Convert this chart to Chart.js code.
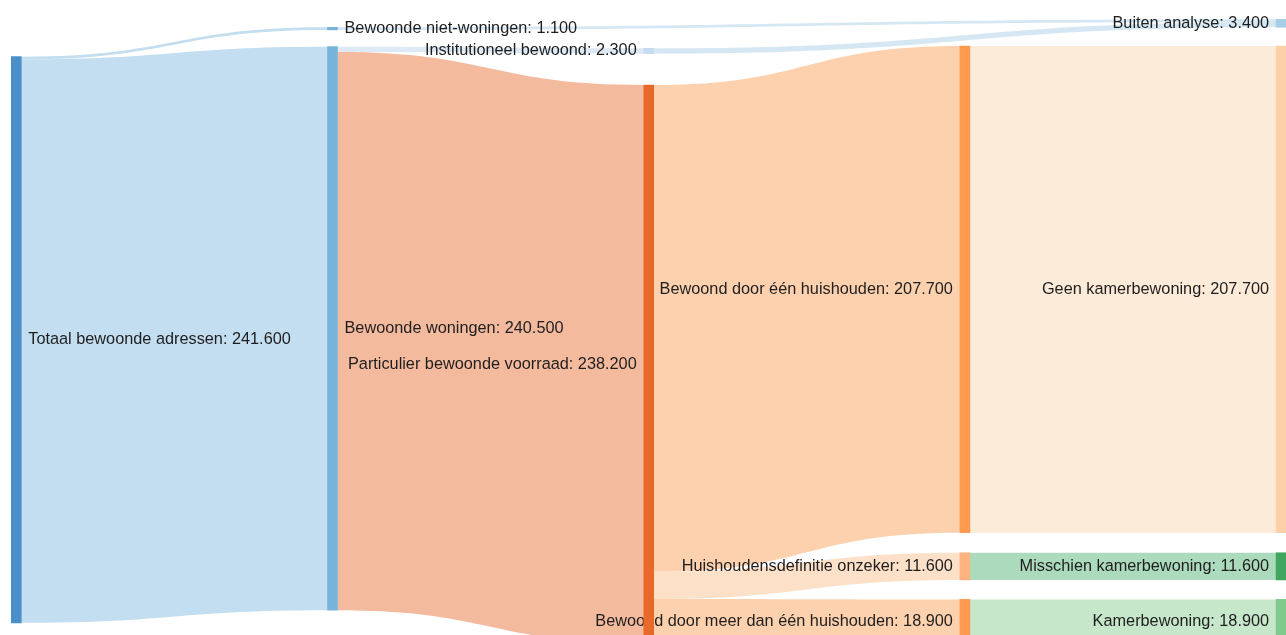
<!DOCTYPE html>
<html>
<head>
<meta charset="utf-8">
<script src="https://cdn.jsdelivr.net/npm/chart.js@4"></script>
<style>
  html, body { margin: 0; padding: 0; background: #fff; overflow: hidden; }
  #wrap { width: 1286px; height: 635px; }
</style>
</head>
<body>
<div id="wrap"><canvas id="myChart" width="1286" height="635"></canvas></div>
<script>
// nodes (values in thousands)
const nodeNames = [
  "Totaal bewoonde adressen",
  "Bewoonde niet-woningen",
  "Bewoonde woningen",
  "Institutioneel bewoond",
  "Particulier bewoonde voorraad",
  "Bewoond door één huishouden",
  "Huishoudensdefinitie onzeker",
  "Bewoond door meer dan één huishouden",
  "Buiten analyse",
  "Geen kamerbewoning",
  "Misschien kamerbewoning",
  "Kamerbewoning"
];
const nodeValues = [241.6, 1.1, 240.5, 2.3, 238.2, 207.7, 11.6, 18.9, 3.4, 207.7, 11.6, 18.9];
const nodeColumns = [0, 1, 1, 2, 2, 3, 3, 3, 4, 4, 4, 4];

// links
const linkSource = [0, 0, 1, 2, 2, 3, 4, 4, 4, 5, 6, 7];
const linkTarget = [1, 2, 8, 3, 4, 8, 5, 6, 7, 9, 10, 11];
const linkValues = [1.1, 240.5, 1.1, 2.3, 238.2, 2.3, 207.7, 11.6, 18.9, 207.7, 11.6, 18.9];

// layout: top of each node, in the same units as the values
const nodeTop = [24.2, 11.65, 19.93, 20.6, 36.3, 19.63, 235.9, 255.8, 8.24, 19.63, 235.9, 255.8];

// styles
const nodeColors = ["#4a8fc7", "#78b3d9", "#78b3d9", "#c6dbef", "#e8692a", "#fd9a50",
  "#fdb27f", "#fd9a50", "#a6cee6", "#fdd0a8", "#41a65f", "#7ecb8c"];
const linkColors = ["#c3def0", "#c3def0", "#d6e7f4", "#dde9f5", "#f4ba9e", "#d6e7f4",
  "#fdd1ae", "#fde0c8", "#fdd1ae", "#fdebd9", "#abdabc", "#c7e7ca"];
const nodeWidth = 10;
const labelPad = 7;

const fmt = (v) => Math.round(v * 1000).toLocaleString("nl-NL");

const sankeyPlugin = {
  id: "sankeyLinks",
  beforeDatasetsDraw(chart) {
    const ctx = chart.ctx;
    const xs = chart.scales.x;
    const ys = chart.scales.y;

    // offsets where links leave / enter each node
    const outOff = nodeValues.map(() => 0);
    const inOff = nodeValues.map(() => 0);
    const order = linkValues.map((v, i) => i);
    const outOrder = order.slice().sort((a, b) =>
      linkSource[a] - linkSource[b] || nodeTop[linkTarget[a]] - nodeTop[linkTarget[b]]);
    const inOrder = order.slice().sort((a, b) =>
      linkTarget[a] - linkTarget[b] || nodeTop[linkSource[a]] - nodeTop[linkSource[b]]);
    const sy = [], ty = [];
    outOrder.forEach(i => {
      const s = linkSource[i];
      sy[i] = nodeTop[s] + outOff[s];
      outOff[s] += linkValues[i];
    });
    inOrder.forEach(i => {
      const t = linkTarget[i];
      ty[i] = nodeTop[t] + inOff[t];
      inOff[t] += linkValues[i];
    });

    ctx.save();
    order.forEach(i => {
      const x0 = xs.getPixelForValue(nodeColumns[linkSource[i]]) + nodeWidth / 2;
      const x1 = xs.getPixelForValue(nodeColumns[linkTarget[i]]) - nodeWidth / 2;
      const xm = (x0 + x1) / 2;
      const s0 = ys.getPixelForValue(sy[i]);
      const s1 = ys.getPixelForValue(sy[i] + linkValues[i]);
      const t0 = ys.getPixelForValue(ty[i]);
      const t1 = ys.getPixelForValue(ty[i] + linkValues[i]);
      ctx.beginPath();
      ctx.moveTo(x0, s0);
      ctx.bezierCurveTo(xm, s0, xm, t0, x1, t0);
      ctx.lineTo(x1, t1);
      ctx.bezierCurveTo(xm, t1, xm, s1, x0, s1);
      ctx.closePath();
      ctx.fillStyle = linkColors[i];
      ctx.fill();
    });

    // labels (nodes are drawn over them)
    ctx.font = '16.3px "Liberation Sans", Arial, sans-serif';
    ctx.fillStyle = "#1e1e1e";
    ctx.textBaseline = "middle";
    nodeNames.forEach((name, i) => {
      const col = nodeColumns[i];
      const xc = xs.getPixelForValue(col);
      const yc = ys.getPixelForValue(nodeTop[i] + nodeValues[i] / 2);
      const text = name + ": " + fmt(nodeValues[i]);
      if (col < 2) {
        ctx.textAlign = "left";
        ctx.fillText(text, xc + nodeWidth / 2 + labelPad, yc);
      } else {
        ctx.textAlign = "right";
        ctx.fillText(text, xc - nodeWidth / 2 - labelPad, yc);
      }
    });
    ctx.restore();
  }
};

const ctx = document.getElementById("myChart").getContext("2d");
const myChart = new Chart(ctx, {
  type: "bar",
  data: {
    datasets: [{
      label: "nodes",
      data: nodeValues.map((v, i) => ({ x: nodeColumns[i], y: [nodeTop[i], nodeTop[i] + v] })),
      backgroundColor: nodeColors,
      borderWidth: 0,
      barThickness: nodeWidth,
      grouped: false
    }]
  },
  options: {
    responsive: false,
    animation: false,
    layout: { padding: 0 },
    plugins: { legend: { display: false }, tooltip: { enabled: false } },
    scales: {
      x: { type: "linear", offset: false, min: -0.0515, max: 4.0155, display: false },
      y: { type: "linear", reverse: true, min: 0, max: 271.0, display: false }
    }
  },
  plugins: [sankeyPlugin]
});
</script>
</body>
</html>
